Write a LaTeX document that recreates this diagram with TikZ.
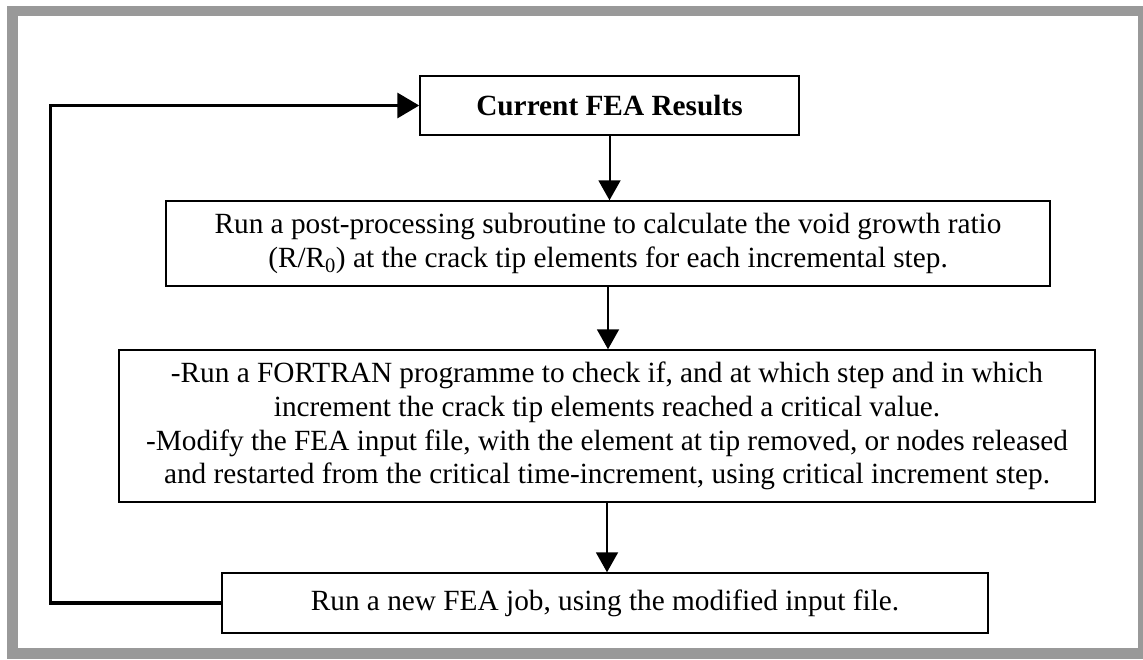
\documentclass[tikz,border=0pt]{standalone}
\usepackage{fontspec}
\setmainfont{Liberation Serif}
\usepackage{tikz}
\usetikzlibrary{arrows.meta}
\definecolor{framegray}{RGB}{153,153,153}
\tikzstyle{process}=[draw,line width=1.5pt,align=center,inner sep=0pt,font=\fontsize{29.3}{33.7}\selectfont]
\tikzstyle{flow} = [draw,line width=2pt,-{Triangle[length=20pt,width=22pt]}]
\tikzstyle{loopback} = [draw,line width=3.5pt,miter limit=4,-{Triangle[length=22pt,width=25pt]}]

\begin{document}
\begin{tikzpicture}[x=1pt,y=-1pt]
    \useasboundingbox (0,0) rectangle (1143,659);
    \draw[framegray,line width=10.5pt] (12.5,11) rectangle (1143.5,653.5);

    \node[process,minimum width=379pt,minimum height=59pt] (results) at (609.5,105.5) {\textbf{Current FEA Results}};
    \node[process,minimum width=884pt,minimum height=85pt] (postproc) at (608,243.5)
        {Run a post-processing subroutine to calculate the void growth ratio\\
         (R/R\textsubscript{0}) at the crack tip elements for each incremental step.};
    \node[process,minimum width=976pt,minimum height=152pt] (fortran) at (607,426)
        {-Run a FORTRAN programme to check if, and at which step and in which\\
         increment the crack tip elements reached a critical value.\\
         -Modify the FEA input file, with the element at tip removed, or nodes released\\
         and restarted from the critical time-increment, using critical increment step.};
    \node[process,minimum width=766pt,minimum height=60pt] (newjob) at (605,603) {Run a new FEA job, using the modified input file.};

    % downward flow between the steps
    \foreach \source/ \dest in {results/postproc, postproc/fortran, fortran/newjob}
        \path[flow] (\source.south) -- (\source.south |- \dest.north);

    % back to the top
    \coordinate (corner) at (50.7,105.5);
    \path[loopback] (newjob.west) -| (corner) -- (results.west);
\end{tikzpicture}
\end{document}
